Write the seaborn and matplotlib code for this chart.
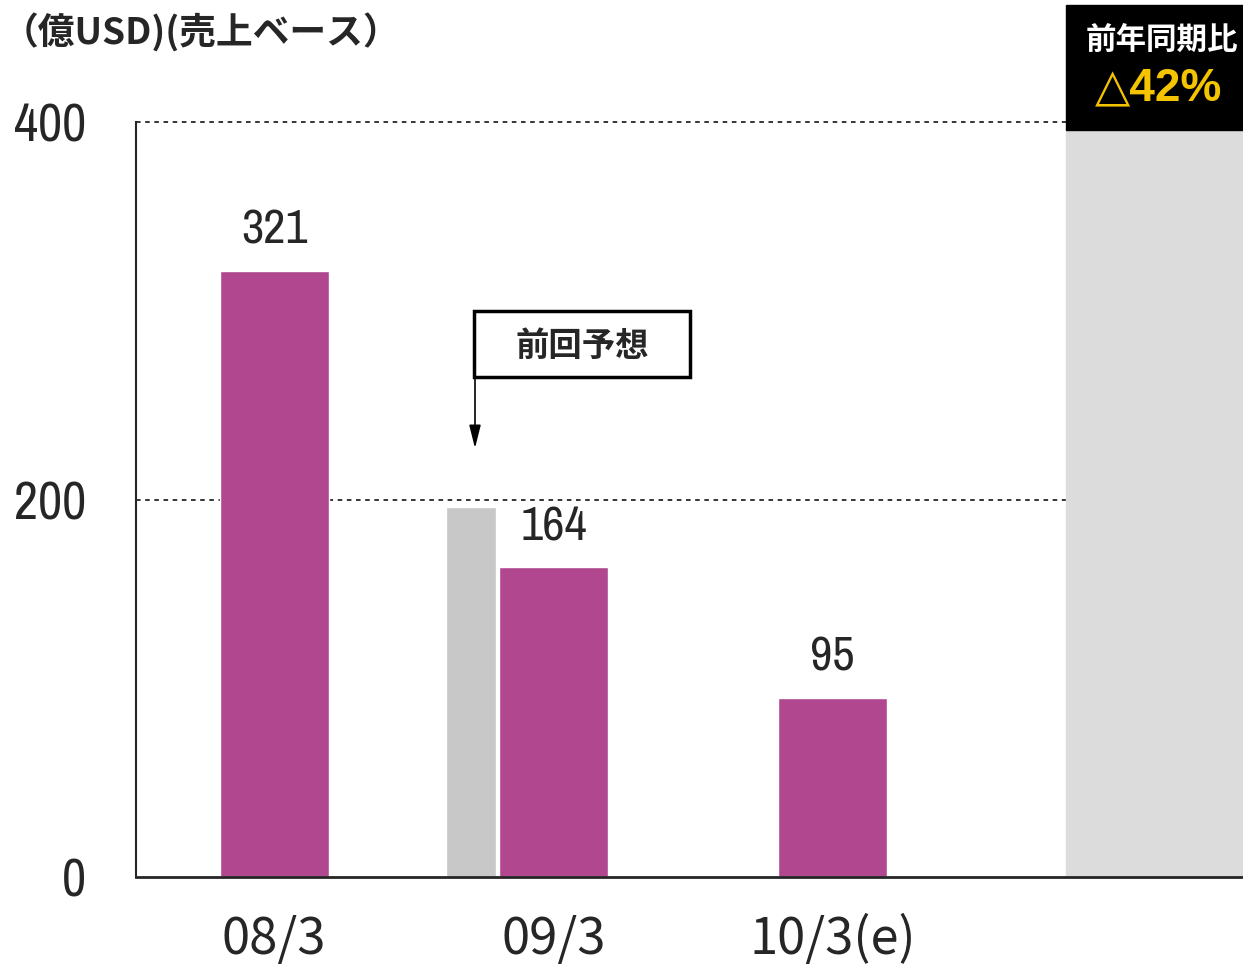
"""
売上ベース 推移（億USD）
"""
import matplotlib
matplotlib.use("Agg")
import matplotlib.pyplot as plt
from matplotlib.patches import Rectangle
import seaborn as sns

PERIODS = ["08/3", "09/3", "10/3(e)"]
SALES = [321, 164, 95]
PREV_FORECAST = 196          # 09/3 前回予想
YTICKS = [0, 200, 400]
TITLE = "（億USD)(売上ベース）"
YOY_HEAD = "前年同期比"
YOY_VALUE = "△42%"
FORECAST_LABEL = "前回予想"

BAR_COLOR = "#B0478F"
FORECAST_COLOR = "#C8C8C8"
PANEL_COLOR = "#DCDCDC"

sns.set_style("white")
NUM = ["Archivo Narrow", "Noto Sans CJK JP", "DejaVu Sans"]
plt.rcParams["font.family"] = NUM
JP = ["Noto Sans CJK JP", "DejaVu Sans"]

fig = plt.figure(figsize=(12.43, 9.68), dpi=100)
ax = fig.add_axes([136 / 1243, 91 / 968, 1107 / 1243, 755 / 968])

# --- 売上バー ---
sns.barplot(x=PERIODS, y=SALES, color=BAR_COLOR, width=0.39, saturation=1,
            ax=ax, zorder=3)
ax.bar_label(ax.containers[0], labels=[str(v) for v in SALES],
             padding=14, fontsize=35)

# --- 前回予想（09/3 の左隣）---
i09 = PERIODS.index("09/3")
ax.bar(i09 - 0.296, PREV_FORECAST, width=0.18, color=FORECAST_COLOR, zorder=3)

# --- グリッド（点線）---
for y in YTICKS[1:]:
    ax.axhline(y, color="black", linestyle=(0, (3, 3)), linewidth=1.1, zorder=1,
               clip_on=False)

ax.set_xlim(-0.495, 3.47)
ax.set_ylim(0, 400)
ax.set_yticks(YTICKS)
ax.set_yticklabels([str(v) for v in YTICKS], fontsize=38)
ax.set_xticks(range(len(PERIODS)))
ax.set_xticklabels(PERIODS, fontsize=36.5, family=JP)
ax.set_xticks([i + 0.5 for i in range(len(PERIODS))], minor=True)
ax.tick_params(axis="x", which="major", length=0, pad=27)
ax.tick_params(axis="x", which="minor", direction="in", length=15, width=1.2)
ax.tick_params(axis="y", direction="in", length=9, width=1.2, pad=36)
ax.set_xlabel("")
ax.set_ylabel("")
for s in ["top", "right"]:
    ax.spines[s].set_visible(False)
ax.spines["left"].set_linewidth(1.5)
ax.spines["bottom"].set_linewidth(2)
ax.spines["left"].set_zorder(5)
ax.spines["bottom"].set_zorder(5)

# --- 右側パネル ---
ax.add_patch(Rectangle((0.840, 0), 0.16, 0.9894, transform=ax.transAxes,
                       color=PANEL_COLOR, clip_on=False, zorder=2))
ax.add_patch(Rectangle((0.840, 0.9894), 0.16, 0.1656, transform=ax.transAxes,
                       color="black", clip_on=False, zorder=2))
fig.text(1162 / 1243, 1 - 40 / 968, YOY_HEAD, color="white", fontsize=22,
         fontweight="bold", family=JP, ha="center", va="center")
fig.text(1159 / 1243, 1 - 88 / 968, YOY_VALUE, color="#F5C400", fontsize=33,
         fontweight="bold", family=["Liberation Sans", "DejaVu Sans"],
         ha="center", va="center")

# --- 前回予想 注記 ---
fig.text(582 / 1243, 1 - 346 / 968, FORECAST_LABEL, fontsize=24,
         fontweight="bold", family=JP, ha="center", va="center")
fig.patches.append(Rectangle((474 / 1243, 1 - 377 / 968), 216 / 1243, 66 / 968,
                             transform=fig.transFigure, fill=False,
                             edgecolor="black", linewidth=2.5))
fig.add_artist(plt.Line2D([475 / 1243] * 2, [1 - 377 / 968, 1 - 430 / 968],
                          color="black", linewidth=1.2))
ax.annotate("", xy=(475 / 1243, 1 - 451 / 968), xycoords="figure fraction",
            xytext=(475 / 1243, 1 - 425 / 968), textcoords="figure fraction",
            arrowprops=dict(arrowstyle="-|>,head_length=1.4,head_width=0.35",
                            color="black", linewidth=1.2))

# --- タイトル ---
fig.text(2 / 1243, 1 - 33 / 968, TITLE, fontsize=26.5, fontweight="bold",
         family=JP, ha="left", va="center")

fig.savefig("out.png", dpi=100)
